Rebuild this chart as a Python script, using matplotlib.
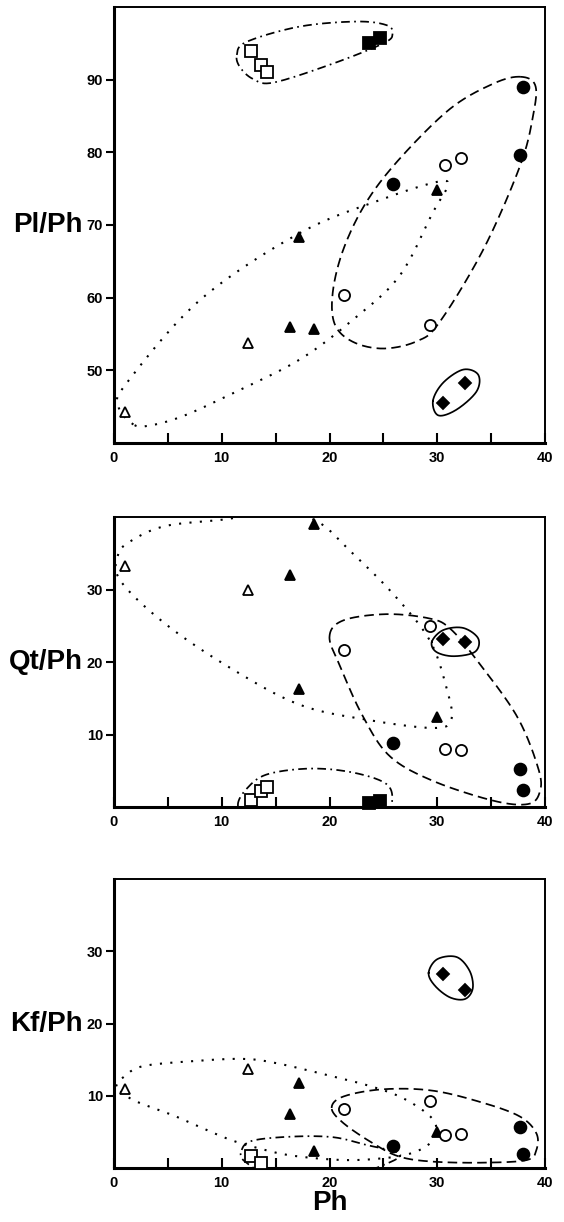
import numpy as np
import matplotlib.pyplot as plt

plt.rcParams['font.family'] = ['Liberation Sans', 'DejaVu Sans']
plt.rcParams['font.weight'] = 'bold'

nan = np.nan

# Ph value of every sample, by group
ph_open_tri = [1.0, 12.4]
ph_fill_tri = [16.3, 17.2, 18.55, 30.0]
ph_open_sq = [12.7, 13.6, 14.2]
ph_fill_sq = [23.7, 24.7]
ph_open_ci = [21.3, 29.3, 30.7, 32.25]
ph_fill_ci = [25.85, 37.7, 37.95]
ph_diam = [30.5, 32.55]

# Pl/Ph
pl_open_tri = [44.3, 53.7]
pl_fill_tri = [55.9, 68.3, 55.7, 74.8]
pl_open_sq = [93.9, 92.0, 91.0]
pl_fill_sq = [95.1, 95.8]
pl_open_ci = [60.3, 56.2, 78.3, 79.2]
pl_fill_ci = [75.6, 79.6, 89.0]
pl_diam = [45.5, 48.3]

# Qt/Ph
qt_open_tri = [33.2, 30.0]
qt_fill_tri = [32.0, 16.3, 39.0, 12.4]
qt_open_sq = [0.9, 2.2, 2.7]
qt_fill_sq = [0.5, 0.8]
qt_open_ci = [21.6, 25.0, 8.0, 7.85]
qt_fill_ci = [8.85, 5.3, 2.4]
qt_diam = [23.2, 22.7]

# Kf/Ph
kf_open_tri = [11.0, 13.7]
kf_fill_tri = [7.5, 11.8, 2.3, 5.0]
kf_open_sq = [1.6, 0.7, nan]
kf_fill_sq = [nan, nan]
kf_open_ci = [8.15, 9.3, 4.5, 4.7]
kf_fill_ci = [3.05, 5.65, 2.0]
kf_diam = [26.9, 24.6]

# hand drawn group outlines (control points)
pl_sq_outline = [(11.4, 93.4), (12.3, 95.2), (17.2, 97.3), (22.5, 98.0), (25.3, 97.5),
                 (25.85, 96.3), (25.0, 95.0), (20.3, 92.2), (14.8, 89.6), (12.9, 90.1), (11.7, 91.7)]
pl_ci_outline = [(37.7, 90.4), (39.1, 89.2), (38.9, 85.1), (37.7, 78.2), (34.3, 66.7),
                 (30.2, 56.6), (28.1, 54.0), (25.0, 53.0), (22.2, 53.9), (20.5, 56.3),
                 (20.3, 60.7), (21.3, 66.7), (23.4, 73.1), (26.5, 79.1), (31.2, 86.0), (35.2, 89.45)]
pl_tri_outline = [(1.8, 42.55), (0.4, 45.1), (1.2, 48.3), (8.0, 59.7), (17.25, 68.9),
                  (25.0, 73.6), (30.2, 76.0), (30.9, 75.2), (29.6, 71.75), (26.5, 63.0),
                  (22.2, 57.0), (17.25, 51.5), (11.1, 46.9), (6.4, 43.7), (3.3, 42.4)]
pl_diam_outline = [(29.6, 45.8), (30.55, 48.3), (32.4, 50.1), (33.8, 49.4), (33.65, 47.1),
                   (31.8, 44.6), (30.1, 43.8)]

qt_tri_outline = [(0.4, 34.9), (0.6, 31.2), (4.9, 25.1), (11.1, 18.9), (17.25, 14.1),
                  (23.4, 12.05), (29.6, 10.9), (31.3, 12.05), (30.9, 16.2), (29.3, 23.0),
                  (25.9, 29.4), (22.2, 34.9), (18.8, 39.45), (14.8, 40.8), (10.45, 39.7),
                  (4.9, 38.8), (1.8, 36.9)]
qt_ci_outline = [(20.0, 23.5), (21.3, 25.75), (25.3, 26.6), (29.3, 26.0), (31.2, 24.6),
                 (33.65, 20.3), (37.4, 12.5), (39.4, 5.2), (39.5, 2.0), (38.4, 0.4),
                 (35.2, 0.87), (29.6, 3.6), (25.6, 7.0), (23.1, 12.5), (21.0, 19.35)]
qt_diam_outline = [(29.5, 22.8), (30.55, 24.4), (32.4, 24.7), (33.8, 23.25), (33.5, 21.4),
                   (31.5, 20.8), (29.9, 21.4)]
qt_sq_outline = [(11.5, 0.2), (12.3, 2.5), (14.2, 4.5), (18.2, 5.3), (22.2, 4.75),
                 (25.3, 3.15), (25.8, 0.6), (25.0, -1.6), (18.5, -2.6), (12.5, -1.8)]

kf_tri_outline = [(0.25, 11.3), (1.0, 12.7), (2.7, 14.1), (7.4, 14.8), (12.0, 15.1),
                  (15.1, 14.5), (19.7, 12.9), (23.4, 11.5), (26.5, 9.9), (29.0, 7.6),
                  (29.9, 5.7), (29.3, 3.4), (27.5, 2.0), (25.0, 1.35), (21.3, 1.1),
                  (16.6, 1.7), (13.5, 2.7), (10.45, 4.1), (5.8, 7.1), (1.8, 9.4)]
kf_ci_outline = [(20.2, 8.3), (21.3, 9.9), (25.0, 10.9), (29.6, 10.7), (34.3, 9.0),
                 (37.7, 7.1), (39.2, 4.8), (39.2, 2.5), (38.3, 1.1), (34.3, 0.74),
                 (29.6, 0.88), (26.5, 1.57), (24.05, 3.4), (21.3, 6.2)]
kf_diam_outline = [(29.2, 27.0), (30.0, 28.9), (31.8, 29.2), (33.0, 27.3), (33.3, 24.9),
                   (32.6, 23.4), (31.2, 23.6), (29.8, 25.2)]
kf_sq_outline = [(11.85, 2.5), (12.9, 3.8), (16.6, 4.35), (20.35, 4.26), (23.4, 3.2),
                 (26.5, 2.0), (25.3, 0.6), (22.0, -0.8), (15.0, -1.0), (12.15, 0.9)]


def closed_curve(pts, n=30):
    # closed Catmull-Rom spline through the control points
    P = np.array(pts, dtype=float)
    k = len(P)
    t = np.linspace(0, 1, n, endpoint=False)[:, None]
    out = []
    for i in range(k):
        p0, p1, p2, p3 = P[i - 1], P[i], P[(i + 1) % k], P[(i + 2) % k]
        seg = 0.5 * ((2 * p1) + (-p0 + p2) * t + (2 * p0 - 5 * p1 + 4 * p2 - p3) * t ** 2
                     + (-p0 + 3 * p1 - 3 * p2 + p3) * t ** 3)
        out.append(seg)
    out = np.vstack(out)
    out = np.vstack([out, out[:1]])
    return out[:, 0], out[:, 1]


DOT = (0, (1, 4))
DASH = (0, (5.5, 3))
DASHDOT = (0, (5, 2.5, 1, 2.5))


def draw_outline(ax, pts, ls, lw=1.25):
    x, y = closed_curve(pts)
    ax.plot(x, y, color='black', lw=lw, linestyle=ls, zorder=2)


def draw_points(ax, vals):
    (otri, ftri, osq, fsq, oci, fci, dia) = vals
    kw = dict(linestyle='none', markeredgecolor='black', markeredgewidth=1.3,
              clip_on=False, zorder=4)
    ax.plot(ph_open_tri, otri, marker='^', ms=7, markerfacecolor='white', **kw)
    ax.plot(ph_fill_tri, ftri, marker='^', ms=7, markerfacecolor='black', **kw)
    ax.plot(ph_open_sq, osq, marker='s', ms=8, markerfacecolor='white', **kw)
    ax.plot(ph_fill_sq, fsq, marker='s', ms=8.5, markerfacecolor='black', **kw)
    ax.plot(ph_open_ci, oci, marker='o', ms=8, markerfacecolor='white', **kw)
    ax.plot(ph_fill_ci, fci, marker='o', ms=8.5, markerfacecolor='black', **kw)
    ax.plot(ph_diam, dia, marker='D', ms=6.5, markerfacecolor='black', **kw)


def style_axes(ax, ylim, yticks, ylabel):
    ax.set_xlim(0, 40)
    ax.set_ylim(*ylim)
    ax.set_xticks([0, 10, 20, 30, 40])
    ax.set_xticks([5, 15, 25, 35], minor=True)
    ax.set_yticks(yticks)
    ax.tick_params(axis='x', which='both', direction='in', length=7, width=1.5,
                   labelsize=10.5, pad=6)
    ax.tick_params(axis='y', direction='out', length=6, width=1.5, labelsize=10.5, pad=2)
    for lab in ax.get_xticklabels() + ax.get_yticklabels():
        lab.set_fontweight('bold')
    for side in ['left', 'bottom']:
        ax.spines[side].set_linewidth(2.2)
    for side in ['top', 'right']:
        ax.spines[side].set_linewidth(1.4)
    ax.set_ylabel(ylabel, rotation=0, fontsize=20, fontweight='bold', ha='right', va='center')
    ax.yaxis.set_label_coords(-0.072, 0.5)


fig = plt.figure(figsize=(5.64, 12.22), dpi=100)
left, width = 114 / 564, 431 / 564

ax1 = fig.add_axes([left, 1 - 443 / 1222, width, 436 / 1222])
ax2 = fig.add_axes([left, 1 - 807 / 1222, width, 290 / 1222])
ax3 = fig.add_axes([left, 1 - 1168 / 1222, width, 289 / 1222])

draw_outline(ax1, pl_sq_outline, DASHDOT)
draw_outline(ax1, pl_ci_outline, DASH)
draw_outline(ax1, pl_tri_outline, DOT, lw=1.5)
draw_outline(ax1, pl_diam_outline, '-')
draw_points(ax1, (pl_open_tri, pl_fill_tri, pl_open_sq, pl_fill_sq, pl_open_ci, pl_fill_ci, pl_diam))
style_axes(ax1, (40, 100), [50, 60, 70, 80, 90], 'Pl/Ph')

draw_outline(ax2, qt_sq_outline, DASHDOT)
draw_outline(ax2, qt_ci_outline, DASH)
draw_outline(ax2, qt_tri_outline, DOT, lw=1.5)
draw_outline(ax2, qt_diam_outline, '-')
draw_points(ax2, (qt_open_tri, qt_fill_tri, qt_open_sq, qt_fill_sq, qt_open_ci, qt_fill_ci, qt_diam))
style_axes(ax2, (0, 40), [10, 20, 30], 'Qt/Ph')

draw_outline(ax3, kf_sq_outline, DASHDOT)
draw_outline(ax3, kf_ci_outline, DASH)
draw_outline(ax3, kf_tri_outline, DOT, lw=1.5)
draw_outline(ax3, kf_diam_outline, '-')
draw_points(ax3, (kf_open_tri, kf_fill_tri, kf_open_sq, kf_fill_sq, kf_open_ci, kf_fill_ci, kf_diam))
style_axes(ax3, (0, 40), [10, 20, 30], 'Kf/Ph')
ax3.set_xlabel('Ph', fontsize=20, fontweight='bold', labelpad=0)

fig.savefig('out.png', dpi=100)
